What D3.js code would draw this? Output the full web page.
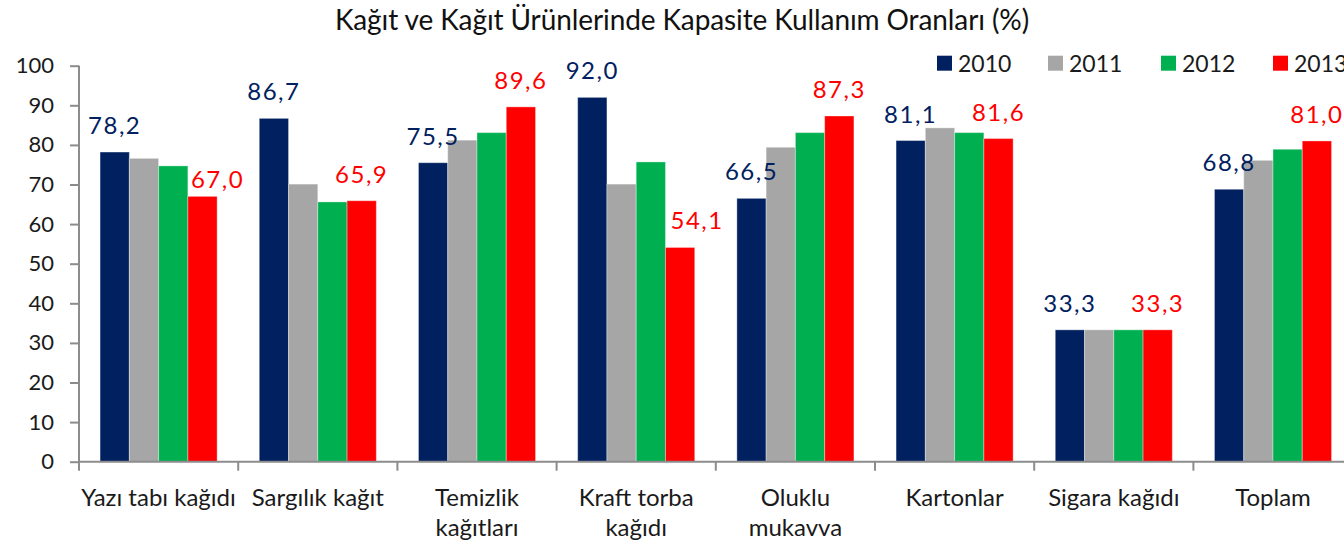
<!DOCTYPE html>
<html>
<head>
<meta charset="utf-8">
<script src="https://cdn.jsdelivr.net/npm/d3@7"></script>
<style>
  html, body { margin: 0; padding: 0; background: #fff; }
  svg { display: block; font-family: Lato, "Open Sans", sans-serif; }
</style>
</head>
<body>
<svg id="chart" width="1344" height="547"></svg>
<script>
// ---- data ----
const categories = ["Yazı tabı kağıdı", "Sargılık kağıt", "Temizlik kağıtları", "Kraft torba kağıdı",
                    "Oluklu mukavva", "Kartonlar", "Sigara kağıdı", "Toplam"];
const categoryLines = [["Yazı tabı kağıdı"], ["Sargılık kağıt"], ["Temizlik", "kağıtları"], ["Kraft torba", "kağıdı"],
                       ["Oluklu", "mukavva"], ["Kartonlar"], ["Sigara kağıdı"], ["Toplam"]];
const years = ["2010", "2011", "2012", "2013"];
const values2010 = [78.2, 86.7, 75.5, 92.0, 66.5, 81.1, 33.3, 68.8];
const values2011 = [76.6, 70.1, 81.2, 70.1, 79.4, 84.3, 33.3, 76.1];
const values2012 = [74.7, 65.6, 83.1, 75.7, 83.1, 83.1, 33.3, 78.9];
const values2013 = [67.0, 65.9, 89.6, 54.1, 87.3, 81.6, 33.3, 81.0];
const yTicks = [0, 10, 20, 30, 40, 50, 60, 70, 80, 90, 100];
const labeledYears = ["2010", "2013"];
const title = "Kağıt ve Kağıt Ürünlerinde Kapasite Kullanım Oranları (%)";

const series = { "2010": values2010, "2011": values2011, "2012": values2012, "2013": values2013 };
const colors = { "2010": "#002060", "2011": "#A6A6A6", "2012": "#00B050", "2013": "#FF0000" };
const labelColors = { "2010": "#002060", "2013": "#FF0000" };
// manually moved labels in the original (style tweak: [dx, dy] in px)
const labelNudge = { "Yazı tabı kağıdı|2013": [15, 10], "Kraft torba kağıdı|2013": [17, 0] };

// ---- layout ----
const svg = d3.select("#chart");
const left = 79, zeroY = 461.7, topY = 65.7, step = 159.2;
const x0 = d3.scaleBand().domain(categories).range([left, left + step * categories.length]).padding(0);
const x1 = d3.scaleBand().domain(years).range([0, x0.bandwidth()]).paddingInner(0).paddingOuter(0.72);
const y = d3.scaleLinear().domain([0, 100]).range([zeroY, topY]);
const axisColor = "#8c8c8c";
const fmt = v => v.toFixed(1).replace(".", ",");

// title
svg.append("text")
  .attr("x", 682).attr("y", 30)
  .attr("text-anchor", "middle")
  .attr("font-size", 28).attr("letter-spacing", -0.1)
  .attr("fill", "#111")
  .text(title);

// bars
const g = svg.append("g");
categories.forEach((c, i) => {
  years.forEach(yr => {
    const v = series[yr][i];
    g.append("rect")
      .attr("x", x0(c) + x1(yr))
      .attr("y", y(v))
      .attr("width", x1.bandwidth())
      .attr("height", y(0) - y(v))
      .attr("fill", colors[yr])
      .attr("stroke", "#fff").attr("stroke-opacity", 0.35).attr("stroke-width", 1);
  });
});

// data labels
categories.forEach((c, i) => {
  labeledYears.forEach(yr => {
    const v = series[yr][i];
    const n = labelNudge[c + "|" + yr] || [0, 0];
    svg.append("text")
      .attr("x", x0(c) + x1(yr) + x1.bandwidth() / 2 + n[0])
      .attr("y", y(v) - 18 + n[1])
      .attr("text-anchor", "middle")
      .attr("font-size", 24).attr("letter-spacing", 1.5)
      .attr("fill", labelColors[yr])
      .text(fmt(v));
  });
});

// y axis
const yAxis = svg.append("g").attr("transform", `translate(${left},0)`)
  .call(d3.axisLeft(y).tickValues(yTicks).tickSize(9).tickPadding(16).tickFormat(d3.format("d")));
yAxis.select(".domain").attr("stroke", axisColor).attr("stroke-width", 2).attr("d", `M0,${zeroY}V${topY}`);
yAxis.selectAll(".tick line").attr("stroke", axisColor).attr("stroke-width", 2);
yAxis.selectAll(".tick text").attr("font-size", 22).attr("fill", "#1a1a1a").attr("font-family", "Lato, 'Open Sans', sans-serif");

// x axis
const xAxis = svg.append("g").attr("transform", `translate(0,${zeroY})`);
xAxis.append("line")
  .attr("x1", left).attr("x2", x0.range()[1])
  .attr("y1", 0).attr("y2", 0)
  .attr("stroke", axisColor).attr("stroke-width", 2);
categories.forEach(c => {
  xAxis.append("line")
    .attr("x1", x0(c)).attr("x2", x0(c)).attr("y1", 0).attr("y2", 9)
    .attr("stroke", axisColor).attr("stroke-width", 2);
});
categories.forEach((c, i) => {
  const t = xAxis.append("text")
    .attr("text-anchor", "middle")
    .attr("font-size", 24)
    .attr("fill", "#1a1a1a");
  categoryLines[i].forEach((line, k) => {
    t.append("tspan")
      .attr("x", x0(c) + x0.bandwidth() / 2)
      .attr("y", 44 + k * 30.7)
      .text(line);
  });
});

// legend
const legendX = [937, 1048, 1161, 1273];
years.forEach((yr, k) => {
  svg.append("rect")
    .attr("x", legendX[k]).attr("y", 55.7)
    .attr("width", 15).attr("height", 15)
    .attr("fill", colors[yr]);
  svg.append("text")
    .attr("x", legendX[k] + 21).attr("y", 72)
    .attr("font-size", 23)
    .attr("fill", "#1a1a1a")
    .text(yr);
});
</script>
</body>
</html>
